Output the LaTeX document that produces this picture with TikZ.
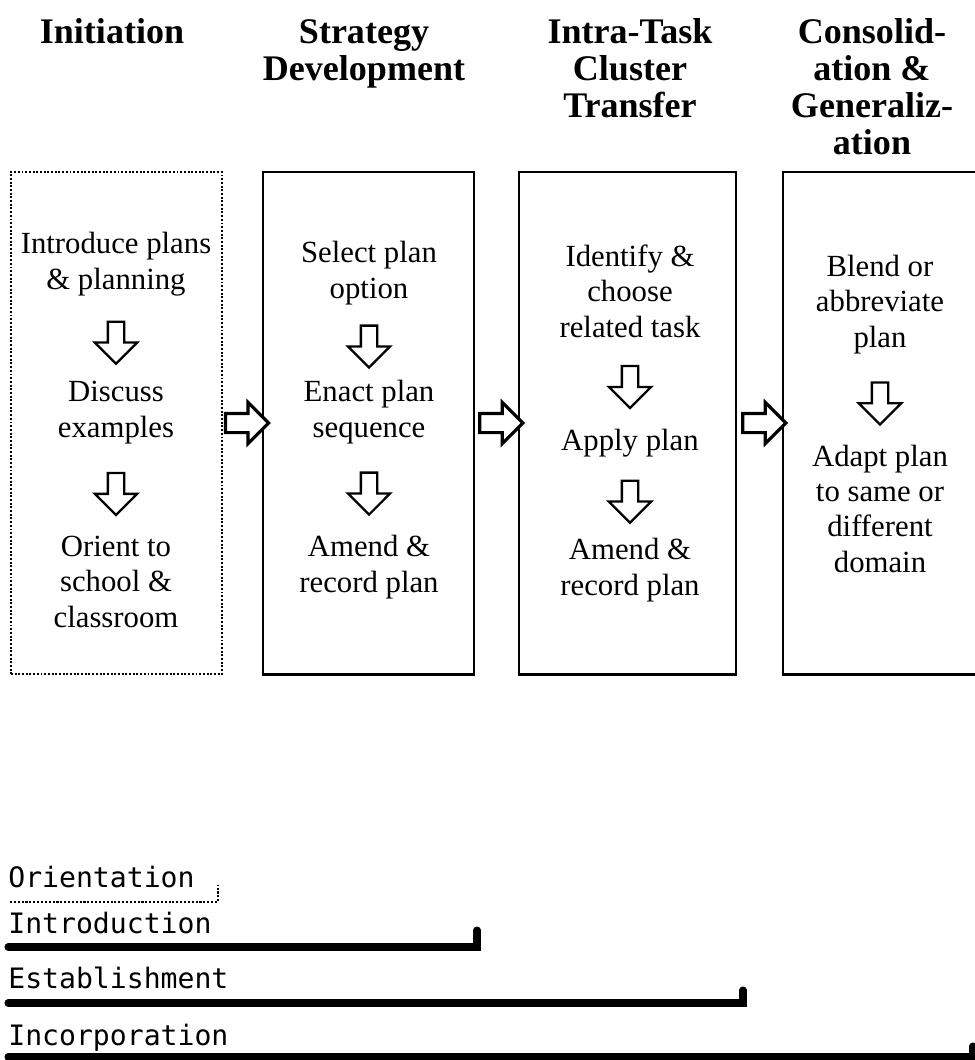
\documentclass[tikz,border=0pt]{standalone}
\usepackage{fontspec}
\setmainfont{Liberation Serif}
\newfontfamily\legendfont{DejaVu Sans Mono}
\usetikzlibrary{shapes.arrows}

\begin{document}
\begin{tikzpicture}[x=0.2mm, y=-0.2mm,
	phasehead/.style={font=\bfseries\fontsize{20.5}{21}\selectfont, align=center, anchor=base, inner sep=0pt},
	phasebox/.style={draw, line width=1.7pt, minimum height=100.4mm, inner sep=0pt},
	looseBox/.style={draw, densely dotted, line width=1.1pt, minimum height=100.4mm, inner sep=0pt},
	stagetext/.style={font=\fontsize{17.5}{20}\selectfont, align=center, anchor=base, inner sep=0pt},
	downarrow/.style={single arrow, draw, fill=white, line width=1.3pt, shape border rotate=270,
		minimum height=8.4mm, minimum width=8mm, inner sep=1.4mm,
		single arrow head extend=2.6mm, single arrow tip angle=90},
	nextarrow/.style={single arrow, draw, fill=white, line width=1.8pt,
		minimum height=8.6mm, minimum width=7.6mm, inner sep=1.6mm,
		single arrow head extend=2.2mm, single arrow tip angle=90},
	legend/.style={font=\legendfont\fontsize{16}{18}\selectfont, anchor=base west, inner sep=0pt},
	timebar/.style={line width=4pt, line join=miter, line cap=round}]
	\useasboundingbox (0,0) rectangle (975,1060);
	
	% phase headings (base = last line)
	\node[phasehead] (h1) at (112,43) {Initiation};
	\node[phasehead] (h2) at (364,80) {Strategy\\Development};
	\node[phasehead] (h3) at (630,117) {Intra-Task\\Cluster\\Transfer};
	\node[phasehead] (h4) at (872,154) {Consolid-\\ation \&\\Generaliz-\\ation};
	
	% phase boxes
	\node[looseBox, minimum width=42.2mm] (b1) at (116.5,423) {};
	\node[phasebox, minimum width=42.2mm] (b2) at (368.5,423) {};
	\node[phasebox, minimum width=43.4mm] (b3) at (627.5,423) {};
	\node[phasebox, minimum width=41.4mm] (b4) at (886.5,423) {};
	
	% box 1
	\node[stagetext] (t11) at (116,289) {Introduce plans\\\& planning};
	\node[stagetext] (t12) at (116,437) {Discuss\\examples};
	\node[stagetext] (t13) at (116,627) {Orient to\\school \&\\classroom};
	% box 2
	\node[stagetext] (t21) at (369,298) {Select plan\\option};
	\node[stagetext] (t22) at (369,437) {Enact plan\\sequence};
	\node[stagetext] (t23) at (369,592) {Amend \&\\record plan};
	% box 3
	\node[stagetext] (t31) at (630,337) {Identify \&\\choose\\related task};
	\node[stagetext] (t32) at (630,450) {Apply plan};
	\node[stagetext] (t33) at (630,595) {Amend \&\\record plan};
	% box 4
	\node[stagetext] (t41) at (880,347) {Blend or\\abbreviate\\plan};
	\node[stagetext] (t42) at (880,572) {Adapt plan\\to same or\\different\\domain};
	
	% arrows inside the boxes
	\path (t11.south) -- node[downarrow] {} (t12.north);
	\path (t12.south) -- node[downarrow] {} (t13.north);
	\path (t21.south) -- node[downarrow] {} (t22.north);
	\path (t22.south) -- node[downarrow] {} (t23.north);
	\path (t31.south) -- node[downarrow] {} (t32.north);
	\path (t32.south) -- node[downarrow] {} (t33.north);
	\path (t41.south) -- node[downarrow] {} (t42.north);
	
	% arrows between the boxes
	\path (b1.east) -- node[nextarrow] {} (b2.west);
	\path (b2.east) -- node[nextarrow] {} (b3.west);
	\path (b3.east) -- node[nextarrow] {} (b4.west);
	
	% time lines
	\node[legend] (l1) at (8,887) {Orientation};
	\draw[densely dotted, line width=1.2pt] (10,902) -- (218,902) -- (218,885);
	\node[legend] (l2) at (8,933) {Introduction};
	\draw[timebar] (8,947) -- (477,947) -- (477,930);
	\node[legend] (l3) at (8,988) {Establishment};
	\draw[timebar] (8,1003) -- (743,1003) -- (743,990);
	\node[legend] (l4) at (8,1045) {Incorporation};
	\draw[timebar] (8,1057) -- (973,1057) -- (973,1046);
\end{tikzpicture}
\end{document}
